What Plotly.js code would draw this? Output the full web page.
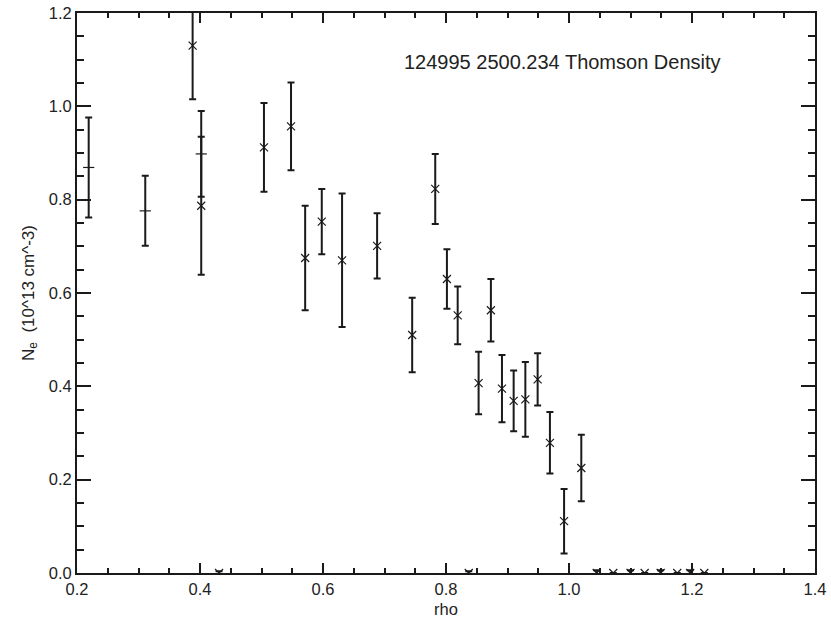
<!DOCTYPE html>
<html>
<head>
<meta charset="utf-8">
<script src="https://cdn.plot.ly/plotly-3.0.1.min.js"></script>
<style>html,body{margin:0;padding:0;background:#fff;}#chart{width:831px;height:618px;}</style>
</head>
<body>
<div id="chart"></div>
<script>
// Series drawn with a short dash marker
const rhoDash = [0.219, 0.311, 0.402];
const neDash = [0.869, 0.776, 0.898];
const errDash = [0.107, 0.075, 0.092];

// Main Thomson series (x markers)
const rho = [0.388, 0.402, 0.431, 0.504, 0.548, 0.571, 0.598, 0.631, 0.688, 0.745,
             0.7825, 0.8015, 0.819, 0.837, 0.853, 0.873, 0.891, 0.910, 0.929, 0.949,
             0.969, 0.992, 1.020, 1.045, 1.072, 1.100, 1.123, 1.149, 1.176, 1.197, 1.220];
const ne = [1.130, 0.787, 0.0, 0.912, 0.957, 0.675, 0.753, 0.670, 0.701, 0.510,
            0.823, 0.630, 0.552, 0.0, 0.407, 0.563, 0.395, 0.369, 0.372, 0.415,
            0.279, 0.111, 0.225, 0.0, 0.0, 0.0, 0.0, 0.0, 0.0, 0.0, 0.0];
const neErr = [0.115, 0.148, 0.004, 0.095, 0.094, 0.112, 0.070, 0.143, 0.070, 0.080,
               0.075, 0.064, 0.062, 0.004, 0.067, 0.067, 0.072, 0.065, 0.080, 0.056,
               0.066, 0.069, 0.071, 0.006, 0.0, 0.006, 0.0, 0.006, 0.0, 0.006, 0.0];

const titleText = "124995 2500.234 Thomson Density";
const xTitle = "rho";
const yTitle = "N<sub>e</sub>\u00A0\u00A0(10^13 cm^-3)";

const font = "Liberation Sans, Arial, Helvetica, sans-serif";
const ink = "#1a1a1a";

const traces = [
  {
    x: rhoDash, y: neDash, type: "scatter", mode: "markers",
    marker: {symbol: "line-ew", size: 8, color: ink, line: {color: ink, width: 1.2}},
    error_y: {type: "data", array: errDash, visible: true, color: ink, thickness: 2, width: 3.5}
  },
  {
    x: rho, y: ne, type: "scatter", mode: "markers",
    marker: {symbol: "x-thin", size: 8, color: ink, line: {color: ink, width: 1.2}},
    error_y: {type: "data", array: neErr, visible: true, color: ink, thickness: 2, width: 3.5}
  }
];

const axisCommon = {
  showline: true, linecolor: ink, linewidth: 2, mirror: "ticks",
  ticks: "inside", tickcolor: ink, tickwidth: 2,
  showgrid: false, zeroline: false,
  tickfont: {family: font, size: 16.5, color: "#222"},
  tickformat: ".1f"
};

const layout = {
  width: 831, height: 618,
  margin: {l: 77, r: 16, t: 13, b: 45},
  paper_bgcolor: "#fff", plot_bgcolor: "#fff",
  showlegend: false,
  xaxis: Object.assign({}, axisCommon, {
    range: [0.2, 1.4], dtick: 0.2, tick0: 0.2, ticklen: 10, ticklabelstandoff: 0,
    minor: {ticks: "inside", dtick: 0.05, ticklen: 5, tickcolor: ink, tickwidth: 2}
  }),
  yaxis: Object.assign({}, axisCommon, {
    range: [0, 1.2], dtick: 0.2, tick0: 0, ticklen: 14,
    minor: {ticks: "inside", dtick: 0.05, ticklen: 7, tickcolor: ink, tickwidth: 2},
    title: {text: yTitle, font: {family: font, size: 17, color: "#222"}, standoff: 10}
  }),
  annotations: [
    {
      x: 0.729, y: 1.095, xref: "x", yref: "y", xanchor: "left", yanchor: "middle",
      text: titleText, showarrow: false,
      font: {family: font, size: 20, color: "#222"}
    },
    {
      x: 0.8, y: -46 / 560, xref: "x", yref: "paper", xanchor: "center", yanchor: "bottom",
      text: xTitle, showarrow: false, borderpad: 0,
      font: {family: font, size: 16.5, color: "#222"}
    }
  ]
};

Plotly.newPlot("chart", traces, layout, {displayModeBar: false, staticPlot: true});
</script>
</body>
</html>
